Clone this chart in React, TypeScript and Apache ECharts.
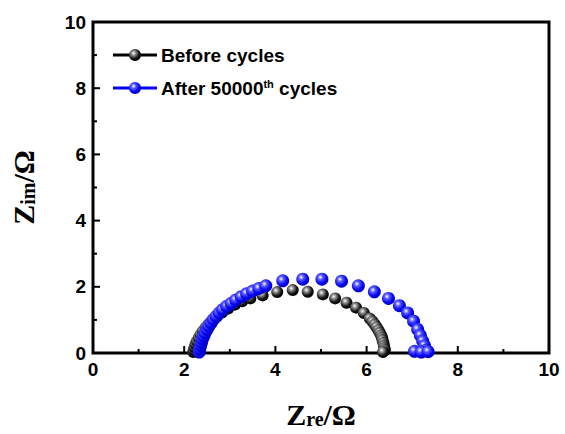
import React, { useEffect, useRef } from "react";
import * as echarts from "echarts";

const xTicks = [0, 2, 4, 6, 8, 10];
const yTicks = [0, 2, 4, 6, 8, 10];
const minorTicks = [1, 3, 5, 7, 9];
const seriesNames = ["Before cycles", "After 50000th cycles"];

const beforeData: number[][] = [
  [2.20, 0.03], [2.21, 0.10], [2.23, 0.18], [2.25, 0.27], [2.28, 0.36], [2.32, 0.46],
  [2.36, 0.56], [2.41, 0.66], [2.47, 0.77], [2.54, 0.88], [2.62, 0.99], [2.72, 1.10],
  [2.83, 1.22], [2.96, 1.34], [3.11, 1.46], [3.27, 1.56], [3.45, 1.65], [3.72, 1.74],
  [4.04, 1.84], [4.38, 1.90], [4.71, 1.85], [5.04, 1.77], [5.31, 1.65], [5.56, 1.52],
  [5.77, 1.37], [5.94, 1.21], [6.07, 1.04], [6.13, 0.95], [6.18, 0.86], [6.22, 0.78],
  [6.26, 0.69], [6.29, 0.61], [6.32, 0.53], [6.34, 0.46], [6.35, 0.39], [6.37, 0.30],
  [6.38, 0.22], [6.39, 0.15], [6.40, 0.09], [6.36, 0.03],
];

const afterData: number[][] = [
  [2.33, 0.03], [2.34, 0.12], [2.36, 0.22], [2.38, 0.32], [2.40, 0.42], [2.43, 0.51],
  [2.46, 0.61], [2.50, 0.71], [2.54, 0.81], [2.59, 0.91], [2.64, 1.01], [2.70, 1.11],
  [2.77, 1.21], [2.84, 1.31], [2.93, 1.41], [3.03, 1.50], [3.13, 1.60], [3.25, 1.70],
  [3.37, 1.79], [3.50, 1.87], [3.64, 1.95], [3.79, 2.03], [4.16, 2.18], [4.60, 2.23],
  [5.02, 2.23], [5.45, 2.17], [5.82, 2.03], [6.17, 1.85], [6.48, 1.65], [6.72, 1.43],
  [6.90, 1.21], [7.03, 0.96], [7.12, 0.71], [7.18, 0.53], [7.23, 0.36], [7.27, 0.22],
  [7.30, 0.08], [7.05, 0.05], [7.20, 0.03], [7.35, 0.04],
];

const blackBall = () =>
  new echarts.graphic.RadialGradient(0.38, 0.35, 0.65, [
    { offset: 0, color: "#ffffff" },
    { offset: 0.3, color: "#8a8a8a" },
    { offset: 0.7, color: "#151515" },
    { offset: 1, color: "#000000" },
  ]);
const blueBall = () =>
  new echarts.graphic.RadialGradient(0.38, 0.35, 0.65, [
    { offset: 0, color: "#ffffff" },
    { offset: 0.3, color: "#5a5aff" },
    { offset: 0.7, color: "#0808f0" },
    { offset: 1, color: "#0000c8" },
  ]);

const labelStyle = () => ({
  color: "#000",
  fontFamily: "Arial, Liberation Sans, sans-serif",
  fontWeight: "bold" as const,
  fontSize: 19,
  margin: 7,
});

const titleRich = () => ({
  z: { fontSize: 30, fontWeight: "bold" as const, fontFamily: "Liberation Serif, Times New Roman, serif", color: "#000", verticalAlign: "bottom" as const, lineHeight: 32 },
  r: { fontSize: 20, fontWeight: "bold" as const, fontFamily: "Liberation Serif, Times New Roman, serif", color: "#000", verticalAlign: "bottom" as const, lineHeight: 28 },
});

const W = 565;
const H = 434;

export default function App() {
  const ref = useRef<HTMLDivElement>(null);
  useEffect(() => {
    if (!ref.current) return;
    const chart = echarts.init(ref.current, undefined, { renderer: "svg" });
    const legendY = [55, 88];
    const legendGraphics: any[] = [];
    [0, 1].forEach((i) => {
      const c = i === 0 ? "#000" : "#0000ee";
      legendGraphics.push({
        type: "line",
        shape: { x1: 113, y1: legendY[i], x2: 157, y2: legendY[i] },
        style: { stroke: c, lineWidth: 3 },
      });
      legendGraphics.push({
        type: "circle",
        shape: { cx: 135, cy: legendY[i], r: 6 },
        style: { fill: i === 0 ? blackBall() : blueBall() },
      });
    });
    legendGraphics.push({
      type: "text",
      x: 161,
      y: legendY[0],
      style: {
        text: seriesNames[0],
        fill: "#000",
        font: "bold 19px Arial, 'Liberation Sans', sans-serif",
        verticalAlign: "middle",
      },
    });
    legendGraphics.push({
      type: "text",
      x: 161,
      y: legendY[1],
      style: {
        text: "{n|After 50000}{s|th}{n| cycles}",
        fill: "#000",
        verticalAlign: "middle",
        rich: {
          n: { fontSize: 19, fontWeight: "bold", fontFamily: "Arial, Liberation Sans, sans-serif", verticalAlign: "bottom", lineHeight: 20 },
          s: { fontSize: 11, fontWeight: "bold", fontFamily: "Arial, Liberation Sans, sans-serif", verticalAlign: "top", lineHeight: 20 },
        },
      },
    });
    const labelAxis = (pos: string, ticks: number[], name: string, gap: number) => ({
      type: "value",
      position: pos,
      min: 0,
      max: 10,
      interval: 2,
      axisLine: { show: false, onZero: false },
      axisTick: { show: false },
      splitLine: { show: false },
      axisLabel: { ...labelStyle(), formatter: (v: number) => (ticks.includes(v) ? String(v) : "") },
      name,
      nameLocation: "middle",
      nameGap: gap,
      nameTextStyle: { rich: titleRich() },
    });

    // tick items: [value, kind] kind: 0 = x major, 1 = x minor, 2 = y major, 3 = y minor
    const tickItems: number[][] = [
      ...xTicks.map((v) => [v, 0]),
      ...minorTicks.map((v) => [v, 1]),
      ...yTicks.map((v) => [v, 2]),
      ...minorTicks.map((v) => [v, 3]),
    ];

    chart.setOption({
      animation: false,
      grid: { left: 91, right: 16, top: 22, bottom: 75 },
      xAxis: [labelAxis("bottom", xTicks, "{z|Z}{r|re}{z|/Ω}", 44)],
      yAxis: [labelAxis("left", yTicks, "{z|Z}{r|im}{z|/Ω}", 55)],
      series: [
        {
          type: "custom",
          name: "frame",
          silent: true,
          clip: false,
          data: [[0, 0]],
          renderItem: (_p: any, api: any) => {
            const a = api.coord([0, 0]);
            const b = api.coord([10, 10]);
            return {
              type: "rect",
              shape: { x: a[0], y: b[1], width: b[0] - a[0], height: a[1] - b[1] },
              style: { fill: "none", stroke: "#000", lineWidth: 3 },
            };
          },
        },
        {
          type: "custom",
          name: "ticks",
          silent: true,
          clip: false,
          data: tickItems,
          renderItem: (_p: any, api: any) => {
            const v = api.value(0);
            const kind = api.value(1);
            const len = kind === 0 || kind === 2 ? 7 : 4;
            if (kind < 2) {
              const p = api.coord([v, 0]);
              return {
                type: "line",
                shape: { x1: p[0], y1: p[1], x2: p[0], y2: p[1] - len },
                style: { stroke: "#000", lineWidth: 2 },
              };
            }
            const p = api.coord([0, v]);
            return {
              type: "line",
              shape: { x1: p[0], y1: p[1], x2: p[0] + len, y2: p[1] },
              style: { stroke: "#000", lineWidth: 2 },
            };
          },
        },
        {
          name: seriesNames[0],
          type: "scatter",
          data: beforeData,
          symbolSize: 12,
          itemStyle: { color: blackBall(), opacity: 1 },
        },
        {
          name: seriesNames[1],
          type: "scatter",
          data: afterData,
          symbolSize: 13,
          itemStyle: { color: blueBall(), opacity: 1 },
        },
      ],
      graphic: legendGraphics,
    });
    return () => chart.dispose();
  }, []);
  return (
    <div
      ref={ref}
      style={{ position: "absolute", left: 0, top: 0, width: W, height: H }}
    />
  );
}
